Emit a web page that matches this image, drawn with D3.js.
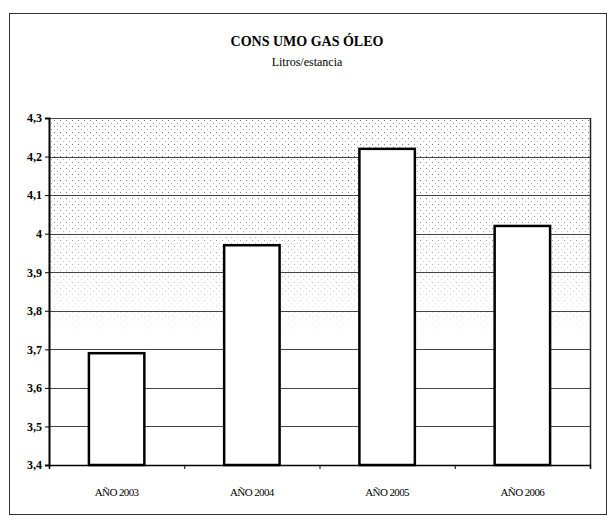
<!DOCTYPE html>
<html>
<head>
<meta charset="utf-8">
<script src="https://cdn.jsdelivr.net/npm/d3@7"></script>
<style>
  html, body { margin: 0; padding: 0; background: #fff; }
</style>
</head>
<body>
<div id="chart"></div>
<script>
(function() {

  var categories = ['AÑO 2003', 'AÑO 2004', 'AÑO 2005', 'AÑO 2006'];
  var values = [3.69, 3.97, 4.22, 4.02];
  var yTicks = [3.4, 3.5, 3.6, 3.7, 3.8, 3.9, 4.0, 4.1, 4.2, 4.3];

  var width = 614;
  var height = 527;
  var plot = {left: 49, right: 590, top: 118, bottom: 465};
  var serif = '"Liberation Serif", "DejaVu Serif", "Times New Roman", serif';

  var svg = d3.select('#chart')
    .append('svg')
    .attr('width', width)
    .attr('height', height)
    .attr('font-family', serif);

  // outer frame
  svg.append('rect')
    .attr('x', 9.5)
    .attr('y', 13.5)
    .attr('width', 597)
    .attr('height', 501)
    .attr('fill', 'none')
    .attr('stroke', '#333')
    .attr('stroke-width', 1);

  svg.append('text')
    .attr('x', 307)
    .attr('y', 46)
    .attr('text-anchor', 'middle')
    .attr('font-family', serif)
    .style('font-size', '14px')
    .style('font-weight', 'bold')
    .text('CONS UMO GAS ÓLEO');

  svg.append('text')
    .attr('x', 307)
    .attr('y', 66)
    .attr('text-anchor', 'middle')
    .attr('font-family', serif)
    .style('font-size', '12px')
    .text('Litros/estancia');

  var xScale = d3.scaleBand()
    .domain(categories)
    .range([plot.left, plot.right])
    .paddingInner(0.59)
    .paddingOuter(0.295);

  var yScale = d3.scaleLinear()
    .domain([3.4, 4.3])
    .range([plot.bottom, plot.top]);

  // stippled background fading downward
  var defs = svg.append('defs');
  var pat = defs.append('pattern')
    .attr('id', 'dots')
    .attr('patternUnits', 'userSpaceOnUse')
    .attr('width', 6)
    .attr('height', 6);
  pat.append('rect').attr('x', 0).attr('y', 0).attr('width', 1).attr('height', 1).attr('fill', '#777');
  pat.append('rect').attr('x', 3).attr('y', 3).attr('width', 1).attr('height', 1).attr('fill', '#aaa');

  var grad = defs.append('linearGradient')
    .attr('id', 'fade')
    .attr('gradientUnits', 'userSpaceOnUse')
    .attr('x1', 0).attr('y1', plot.top)
    .attr('x2', 0).attr('y2', yScale(3.72));
  grad.append('stop').attr('offset', 0).attr('stop-color', '#fff');
  grad.append('stop').attr('offset', 0.45).attr('stop-color', '#ddd');
  grad.append('stop').attr('offset', 1).attr('stop-color', '#000');

  defs.append('mask')
    .attr('id', 'fadeMask')
    .append('rect')
    .attr('x', plot.left).attr('y', plot.top)
    .attr('width', plot.right - plot.left)
    .attr('height', plot.bottom - plot.top)
    .attr('fill', 'url(#fade)');

  svg.append('rect')
    .attr('x', plot.left).attr('y', plot.top)
    .attr('width', plot.right - plot.left)
    .attr('height', plot.bottom - plot.top)
    .attr('fill', 'url(#dots)')
    .attr('mask', 'url(#fadeMask)');

  // gridlines
  svg.append('g')
    .selectAll('line')
    .data(yTicks)
    .enter()
    .append('line')
    .attr('x1', plot.left)
    .attr('x2', plot.right)
    .attr('y1', function(d) { return Math.round(yScale(d)) + 0.5; })
    .attr('y2', function(d) { return Math.round(yScale(d)) + 0.5; })
    .attr('stroke', '#444')
    .attr('stroke-width', 1);

  // right border
  svg.append('line')
    .attr('x1', plot.right + 0.5).attr('x2', plot.right + 0.5)
    .attr('y1', plot.top).attr('y2', plot.bottom)
    .attr('stroke', '#222')
    .attr('stroke-width', 1.5);

  // bars
  svg.append('g')
    .selectAll('rect')
    .data(values)
    .enter()
    .append('rect')
    .attr('x', function(d, i) { return xScale(categories[i]); })
    .attr('y', function(d) { return yScale(d); })
    .attr('width', xScale.bandwidth())
    .attr('height', function(d) { return yScale(3.4) - yScale(d); })
    .attr('fill', '#fff')
    .attr('stroke', '#000')
    .attr('stroke-width', 2.5);

  var fmt = function(d) { return d3.format('.1~f')(d).replace('.', ','); };

  var yAxis = d3.axisLeft(yScale)
    .tickValues(yTicks)
    .tickSize(4)
    .tickFormat(fmt);

  var gy = svg.append('g')
    .attr('transform', 'translate(' + plot.left + ', 0)')
    .call(yAxis)
    .attr('font-family', serif)
    .attr('font-size', 12);
  gy.select('.domain').attr('stroke-width', 2);
  gy.selectAll('.tick>text')
    .style('font-weight', 'bold')
    .attr('x', -7);

  var bounds = d3.scaleLinear().domain([0, categories.length]).range([plot.left, plot.right]);
  var xAxis = d3.axisBottom(bounds)
    .tickValues(d3.range(categories.length + 1))
    .tickSize(4)
    .tickFormat('');

  var gx = svg.append('g')
    .attr('transform', 'translate(0, ' + plot.bottom + ')')
    .call(xAxis);
  gx.select('.domain').attr('stroke-width', 1.5);

  svg.append('g')
    .selectAll('text')
    .data(categories)
    .enter()
    .append('text')
    .attr('x', function(d) { return xScale(d) + xScale.bandwidth() / 2; })
    .attr('y', 496)
    .attr('text-anchor', 'middle')
    .attr('font-family', serif)
    .style('font-size', '11px')
    .style('letter-spacing', '-0.6px')
    .text(function(d) { return d; });

})()
</script>
</body>
</html>
